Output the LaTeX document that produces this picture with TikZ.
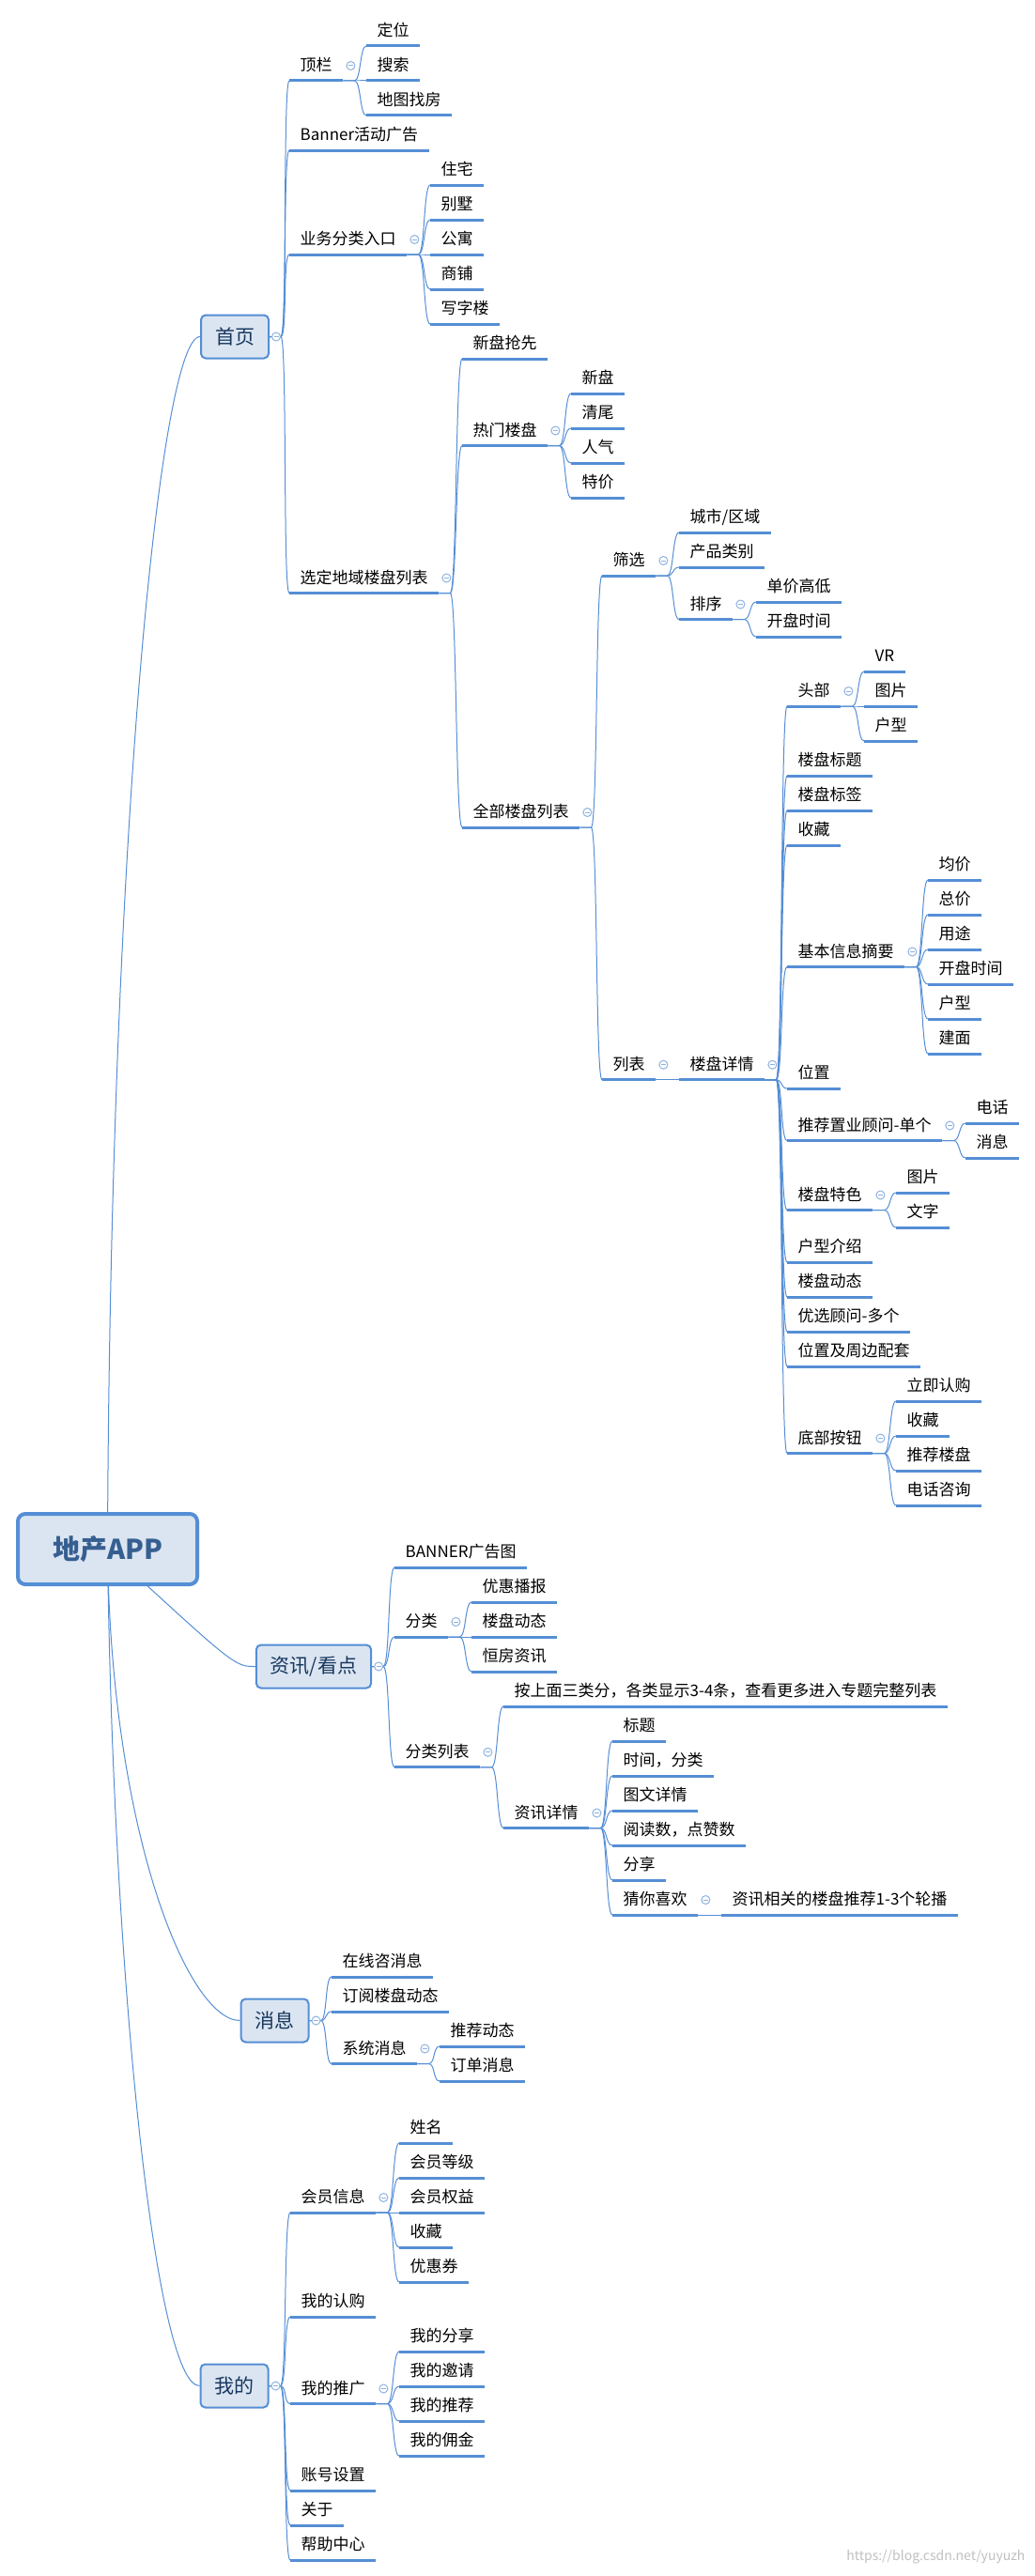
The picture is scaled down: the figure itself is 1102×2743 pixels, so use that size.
\documentclass[tikz,border=0pt]{standalone}
\usepackage{fontspec}
\setmainfont{Noto Sans CJK SC}
\usetikzlibrary{calc,backgrounds}
\definecolor{MapBlue}{RGB}{85,142,213}
\definecolor{BoxFill}{RGB}{219,229,241}
\definecolor{TopicNavy}{RGB}{23,55,94}
\definecolor{RootNavy}{RGB}{54,95,145}
\definecolor{FoldBlue}{RGB}{141,179,226}

\begin{document}
\begin{tikzpicture}[x=1pt,y=-1pt,
  root/.style={draw=MapBlue,fill=BoxFill,line width=4pt,rounded corners=8pt,
               minimum width=191pt,minimum height=75pt,text=RootNavy,
               font=\fontsize{29}{34}\selectfont\bfseries},
  main/.style={draw=MapBlue,fill=BoxFill,line width=2pt,rounded corners=5pt,
               minimum height=46pt,inner xsep=15pt,text=TopicNavy,
               font=\fontsize{21}{25}\selectfont},
  topic/.style={anchor=south west,inner xsep=11.5pt,inner ysep=10pt,
                text height=12pt,text depth=0pt,font=\fontsize{17}{20}\selectfont,
                append after command={(\tikzlastnode.south west)
                  edge[draw=MapBlue,line width=3pt] (\tikzlastnode.south east)}},
  link/.style={draw=MapBlue,line width=1pt,
               to path={-- ++(12,0) .. controls +(7,0) and ([xshift=-7pt]\tikztotarget) .. (\tikztotarget)}},
  fold/.style={circle,draw=FoldBlue,fill=white,line width=1pt,minimum size=9pt,inner sep=0pt,
               path picture={\draw[FoldBlue,line width=1pt]
                 ([xshift=-2.5pt]path picture bounding box.center) --
                 ([xshift=2.5pt]path picture bounding box.center);}},
]
\useasboundingbox (0,0) rectangle (1102,2743);

% main topics
\node[root] (app) at (114.5,1649.5) {地产APP};
\node[main] (home) at (250,358.5) {首页};
\node[main] (zixun) at (334,1774.5) {资讯/看点};
\node[main] (msgbox) at (292.5,2151.5) {消息};
\node[main] (mine) at (249.5,2540.5) {我的};

% 首页
\node[topic] (topbar) at (308,86) {顶栏};
\node[topic] (loc) at (390,49) {定位};
\node[topic] (search) at (390,86) {搜索};
\node[topic] (mapfind) at (390,123) {地图找房};
\node[topic] (banner) at (308,160) {Banner活动广告};
\node[topic] (biz) at (308,271) {业务分类入口};
\node[topic] (zhuzhai) at (458,197) {住宅};
\node[topic] (bieshu) at (458,234) {别墅};
\node[topic] (gongyu) at (458,271) {公寓};
\node[topic] (shangpu) at (458,308) {商铺};
\node[topic] (xiezilou) at (458,345) {写字楼};
\node[topic] (area) at (308,631.5) {选定地域楼盘列表};
\node[topic] (newlp) at (492,382) {新盘抢先};
\node[topic] (hot) at (492,474.5) {热门楼盘};
\node[topic] (hxp) at (608,419) {新盘};
\node[topic] (hqw) at (608,456) {清尾};
\node[topic] (hrq) at (608,493) {人气};
\node[topic] (htj) at (608,530) {特价};
\node[topic] (all) at (492,881) {全部楼盘列表};
\node[topic] (filter) at (641,613) {筛选};
\node[topic] (city) at (723,567) {城市/区域};
\node[topic] (cat) at (723,604) {产品类别};
\node[topic] (sort) at (723,659.5) {排序};
\node[topic] (price) at (805,641) {单价高低};
\node[topic] (opent) at (805,678) {开盘时间};
\node[topic] (list) at (641,1149.75) {列表};
\node[topic] (detail) at (723,1149.75) {楼盘详情};
\node[topic] (head) at (838,752) {头部};
\node[topic] (vr) at (920,715) {VR};
\node[topic] (pic) at (920,752) {图片};
\node[topic] (hx) at (920,789) {户型};
\node[topic] (title) at (838,826) {楼盘标题};
\node[topic] (tag) at (838,863) {楼盘标签};
\node[topic] (fav) at (838,900) {收藏};
\node[topic] (basic) at (838,1029.5) {基本信息摘要};
\node[topic] (avg) at (988,937) {均价};
\node[topic] (total) at (988,974) {总价};
\node[topic] (usage) at (988,1011) {用途};
\node[topic] (opent2) at (988,1048) {开盘时间};
\node[topic] (hx2) at (988,1085) {户型};
\node[topic] (jianmian) at (988,1122) {建面};
\node[topic] (pos) at (838,1159) {位置};
\node[topic] (adv) at (838,1214.5) {推荐置业顾问-单个};
\node[topic] (tel) at (1028,1196) {电话};
\node[topic] (msg) at (1028,1233) {消息};
\node[topic] (feat) at (838,1288.5) {楼盘特色};
\node[topic] (fpic) at (954,1270) {图片};
\node[topic] (ftxt) at (954,1307) {文字};
\node[topic] (layout) at (838,1344) {户型介绍};
\node[topic] (dyn) at (838,1381) {楼盘动态};
\node[topic] (advs) at (838,1418) {优选顾问-多个};
\node[topic] (around) at (838,1455) {位置及周边配套};
\node[topic] (bottom) at (838,1547.5) {底部按钮};
\node[topic] (buy) at (954,1492) {立即认购};
\node[topic] (bfav) at (954,1529) {收藏};
\node[topic] (brec) at (954,1566) {推荐楼盘};
\node[topic] (bcall) at (954,1603) {电话咨询};

% 资讯/看点
\node[topic] (zbanner) at (420,1669) {BANNER广告图};
\node[topic] (zcat) at (420,1743) {分类};
\node[topic] (yh) at (502,1706) {优惠播报};
\node[topic] (lpdt) at (502,1743) {楼盘动态};
\node[topic] (hf) at (502,1780) {恒房资讯};
\node[topic] (zlist) at (420,1881.75) {分类列表};
\node[topic] (note) at (536,1817) {按上面三类分，各类显示3-4条，查看更多进入专题完整列表};
\node[topic] (zdetail) at (536,1946.5) {资讯详情};
\node[topic] (ztitle) at (652,1854) {标题};
\node[topic] (ztime) at (652,1891) {时间，分类};
\node[topic] (zimg) at (652,1928) {图文详情};
\node[topic] (zread) at (652,1965) {阅读数，点赞数};
\node[topic] (zshare) at (652,2002) {分享};
\node[topic] (guess) at (652,2039) {猜你喜欢};
\node[topic] (rel) at (768,2039) {资讯相关的楼盘推荐1-3个轮播};

% 消息
\node[topic] (online) at (353,2105) {在线咨消息};
\node[topic] (sub) at (353,2142) {订阅楼盘动态};
\node[topic] (sys) at (353,2197.5) {系统消息};
\node[topic] (recdt) at (468,2179) {推荐动态};
\node[topic] (order) at (468,2216) {订单消息};

% 我的
\node[topic] (member) at (309,2356) {会员信息};
\node[topic] (uname) at (425,2282) {姓名};
\node[topic] (level) at (425,2319) {会员等级};
\node[topic] (rights) at (425,2356) {会员权益};
\node[topic] (mfav) at (425,2393) {收藏};
\node[topic] (coupon) at (425,2430) {优惠券};
\node[topic] (mybuy) at (309,2467) {我的认购};
\node[topic] (promo) at (309,2559.5) {我的推广};
\node[topic] (share) at (425,2504) {我的分享};
\node[topic] (invite) at (425,2541) {我的邀请};
\node[topic] (recom) at (425,2578) {我的推荐};
\node[topic] (comm) at (425,2615) {我的佣金};
\node[topic] (account) at (309,2652) {账号设置};
\node[topic] (about) at (309,2689) {关于};
\node[topic] (help) at (309,2726) {帮助中心};

% root curves
\begin{scope}[on background layer]
\draw[MapBlue,line width=1pt] (app.center) .. controls (117,900) and (170,358.5) .. (home.west);
\draw[MapBlue,line width=1pt] (app.center) .. controls (250,1774.5) .. (zixun.west);
\draw[MapBlue,line width=1pt] (app.center) .. controls (118,1950) and (200,2151.5) .. (msgbox.west);
\draw[MapBlue,line width=1pt] (app.center) .. controls (120,2100) and (165,2540.5) .. (mine.west);
\end{scope}

% branches
\draw[link] (home.east) to (topbar.south west);
\draw[link] (home.east) to (banner.south west);
\draw[link] (home.east) to (biz.south west);
\draw[link] (home.east) to (area.south west);
\draw[link] (topbar.south east) to (loc.south west);
\draw[link] (topbar.south east) to (search.south west);
\draw[link] (topbar.south east) to (mapfind.south west);
\draw[link] (biz.south east) to (zhuzhai.south west);
\draw[link] (biz.south east) to (bieshu.south west);
\draw[link] (biz.south east) to (gongyu.south west);
\draw[link] (biz.south east) to (shangpu.south west);
\draw[link] (biz.south east) to (xiezilou.south west);
\draw[link] (area.south east) to (newlp.south west);
\draw[link] (area.south east) to (hot.south west);
\draw[link] (area.south east) to (all.south west);
\draw[link] (hot.south east) to (hxp.south west);
\draw[link] (hot.south east) to (hqw.south west);
\draw[link] (hot.south east) to (hrq.south west);
\draw[link] (hot.south east) to (htj.south west);
\draw[link] (all.south east) to (filter.south west);
\draw[link] (all.south east) to (list.south west);
\draw[link] (filter.south east) to (city.south west);
\draw[link] (filter.south east) to (cat.south west);
\draw[link] (filter.south east) to (sort.south west);
\draw[link] (sort.south east) to (price.south west);
\draw[link] (sort.south east) to (opent.south west);
\draw[link] (list.south east) to (detail.south west);
\draw[link] (detail.south east) to (head.south west);
\draw[link] (detail.south east) to (title.south west);
\draw[link] (detail.south east) to (tag.south west);
\draw[link] (detail.south east) to (fav.south west);
\draw[link] (detail.south east) to (basic.south west);
\draw[link] (detail.south east) to (pos.south west);
\draw[link] (detail.south east) to (adv.south west);
\draw[link] (detail.south east) to (feat.south west);
\draw[link] (detail.south east) to (layout.south west);
\draw[link] (detail.south east) to (dyn.south west);
\draw[link] (detail.south east) to (advs.south west);
\draw[link] (detail.south east) to (around.south west);
\draw[link] (detail.south east) to (bottom.south west);
\draw[link] (head.south east) to (vr.south west);
\draw[link] (head.south east) to (pic.south west);
\draw[link] (head.south east) to (hx.south west);
\draw[link] (basic.south east) to (avg.south west);
\draw[link] (basic.south east) to (total.south west);
\draw[link] (basic.south east) to (usage.south west);
\draw[link] (basic.south east) to (opent2.south west);
\draw[link] (basic.south east) to (hx2.south west);
\draw[link] (basic.south east) to (jianmian.south west);
\draw[link] (adv.south east) to (tel.south west);
\draw[link] (adv.south east) to (msg.south west);
\draw[link] (feat.south east) to (fpic.south west);
\draw[link] (feat.south east) to (ftxt.south west);
\draw[link] (bottom.south east) to (buy.south west);
\draw[link] (bottom.south east) to (bfav.south west);
\draw[link] (bottom.south east) to (brec.south west);
\draw[link] (bottom.south east) to (bcall.south west);

\draw[link] (zixun.east) to (zbanner.south west);
\draw[link] (zixun.east) to (zcat.south west);
\draw[link] (zixun.east) to (zlist.south west);
\draw[link] (zcat.south east) to (yh.south west);
\draw[link] (zcat.south east) to (lpdt.south west);
\draw[link] (zcat.south east) to (hf.south west);
\draw[link] (zlist.south east) to (note.south west);
\draw[link] (zlist.south east) to (zdetail.south west);
\draw[link] (zdetail.south east) to (ztitle.south west);
\draw[link] (zdetail.south east) to (ztime.south west);
\draw[link] (zdetail.south east) to (zimg.south west);
\draw[link] (zdetail.south east) to (zread.south west);
\draw[link] (zdetail.south east) to (zshare.south west);
\draw[link] (zdetail.south east) to (guess.south west);
\draw[link] (guess.south east) to (rel.south west);

\draw[link] (msgbox.east) to (online.south west);
\draw[link] (msgbox.east) to (sub.south west);
\draw[link] (msgbox.east) to (sys.south west);
\draw[link] (sys.south east) to (recdt.south west);
\draw[link] (sys.south east) to (order.south west);

\draw[link] (mine.east) to (member.south west);
\draw[link] (mine.east) to (mybuy.south west);
\draw[link] (mine.east) to (promo.south west);
\draw[link] (mine.east) to (account.south west);
\draw[link] (mine.east) to (about.south west);
\draw[link] (mine.east) to (help.south west);
\draw[link] (member.south east) to (uname.south west);
\draw[link] (member.south east) to (level.south west);
\draw[link] (member.south east) to (rights.south west);
\draw[link] (member.south east) to (mfav.south west);
\draw[link] (member.south east) to (coupon.south west);
\draw[link] (promo.south east) to (share.south west);
\draw[link] (promo.south east) to (invite.south west);
\draw[link] (promo.south east) to (recom.south west);
\draw[link] (promo.south east) to (comm.south west);

% fold markers
\node[fold] (fhome) at ($(home.east)+(7,0)$) {};
\node[fold] (fzixun) at ($(zixun.east)+(7,0)$) {};
\node[fold] (fmsgbox) at ($(msgbox.east)+(7,0)$) {};
\node[fold] (fmine) at ($(mine.east)+(7,0)$) {};
\node[fold] (ftopbar) at ($(topbar.south east)+(8,-16)$) {};
\node[fold] (fbiz) at ($(biz.south east)+(8,-16)$) {};
\node[fold] (farea) at ($(area.south east)+(8,-16)$) {};
\node[fold] (fhot) at ($(hot.south east)+(8,-16)$) {};
\node[fold] (fall) at ($(all.south east)+(8,-16)$) {};
\node[fold] (ffilter) at ($(filter.south east)+(8,-16)$) {};
\node[fold] (fsort) at ($(sort.south east)+(8,-16)$) {};
\node[fold] (flist) at ($(list.south east)+(8,-16)$) {};
\node[fold] (fdetail) at ($(detail.south east)+(8,-16)$) {};
\node[fold] (fhead) at ($(head.south east)+(8,-16)$) {};
\node[fold] (fbasic) at ($(basic.south east)+(8,-16)$) {};
\node[fold] (fadv) at ($(adv.south east)+(8,-16)$) {};
\node[fold] (ffeat) at ($(feat.south east)+(8,-16)$) {};
\node[fold] (fbottom) at ($(bottom.south east)+(8,-16)$) {};
\node[fold] (fzcat) at ($(zcat.south east)+(8,-16)$) {};
\node[fold] (fzlist) at ($(zlist.south east)+(8,-16)$) {};
\node[fold] (fzdetail) at ($(zdetail.south east)+(8,-16)$) {};
\node[fold] (fguess) at ($(guess.south east)+(8,-16)$) {};
\node[fold] (fsys) at ($(sys.south east)+(8,-16)$) {};
\node[fold] (fmember) at ($(member.south east)+(8,-16)$) {};
\node[fold] (fpromo) at ($(promo.south east)+(8,-16)$) {};

\node[text=black!25,font=\fontsize{14}{16}\selectfont,anchor=east] (mark) at (1095,2723) {https://blog.csdn.net/yuyuzh};
\end{tikzpicture}
\end{document}
